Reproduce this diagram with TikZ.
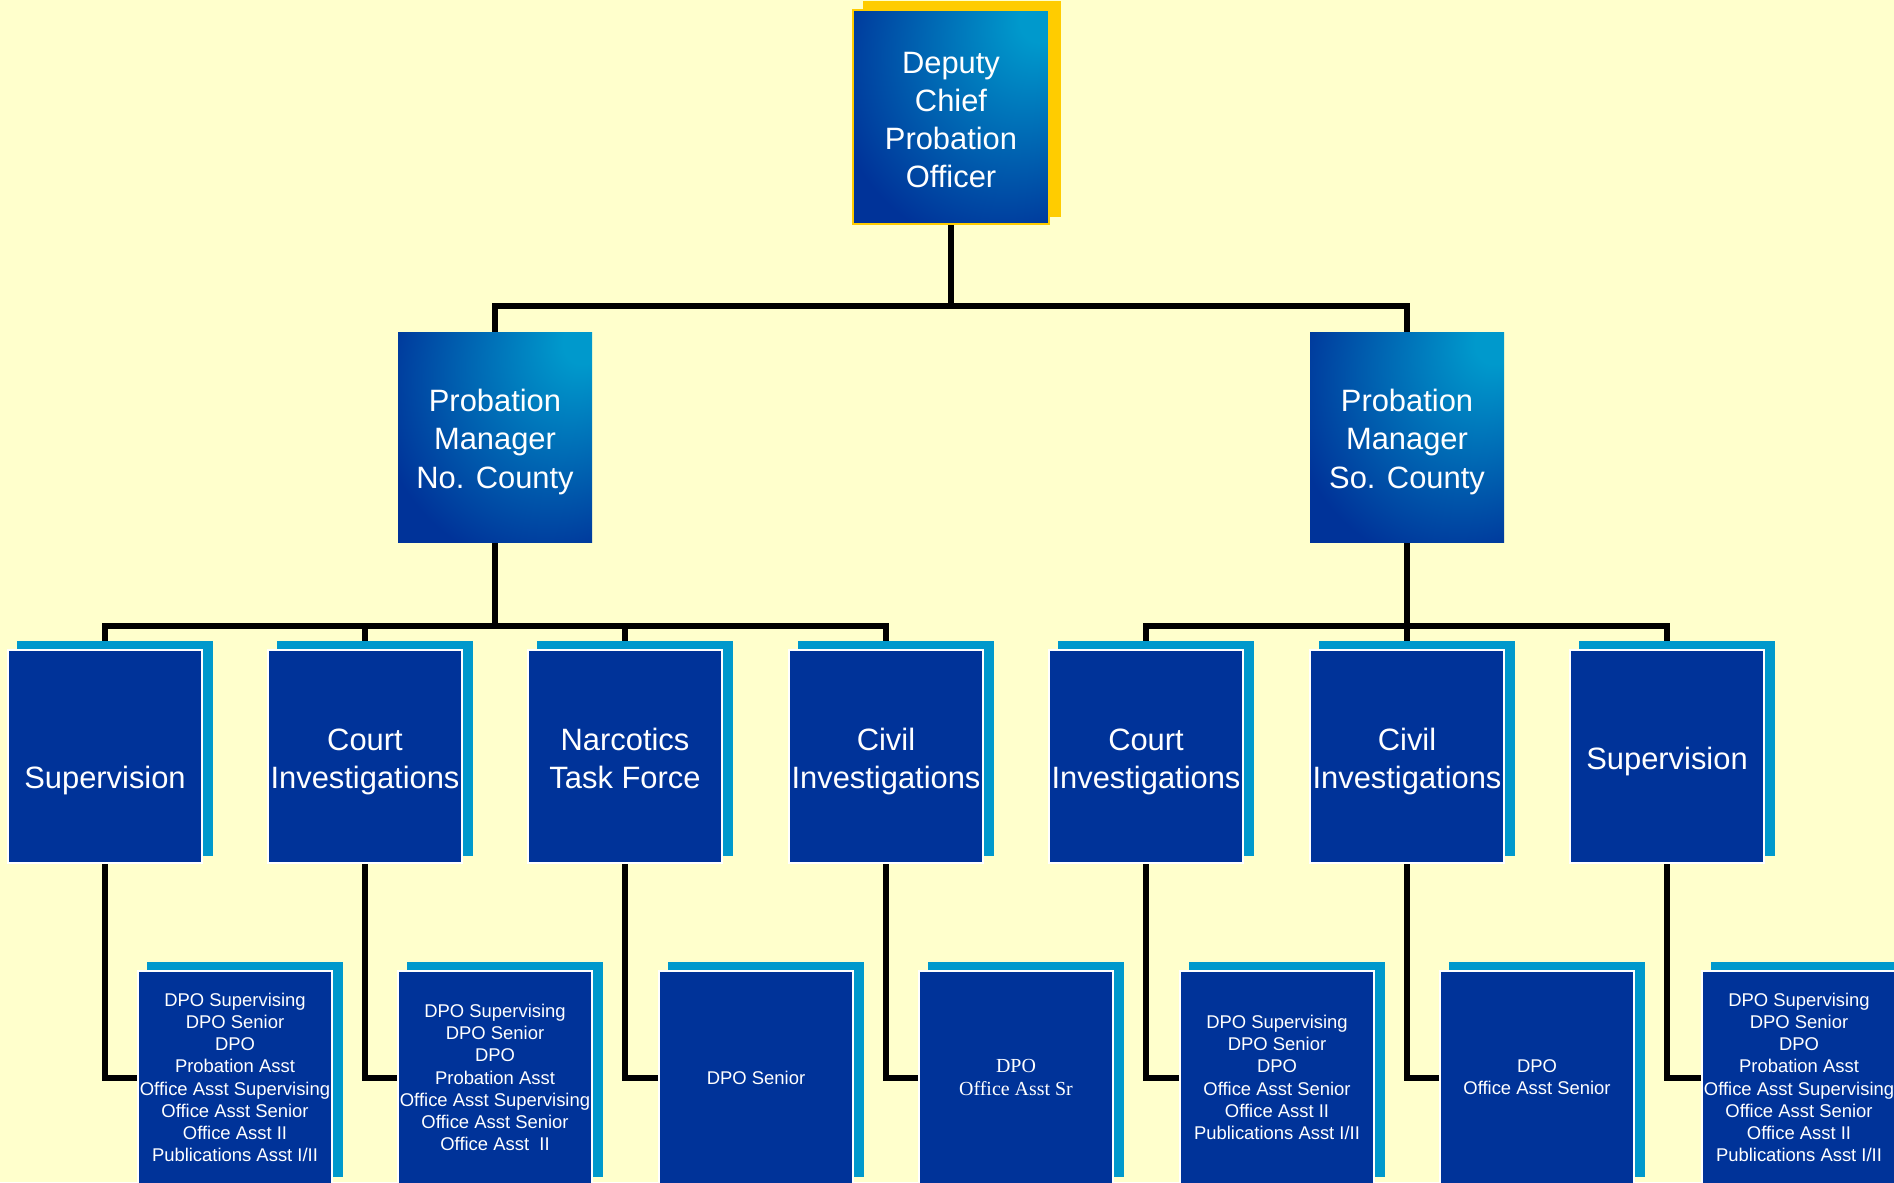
\documentclass[tikz,border=0pt]{standalone}
\usepackage{fontspec}
\setmainfont{Liberation Sans}
\newfontfamily\serifface{Liberation Serif}
\definecolor{bgyellow}{HTML}{FFFFCC}
\definecolor{boxblue}{HTML}{003399}
\definecolor{shadowblue}{HTML}{0099CC}
\definecolor{goldshadow}{HTML}{FFCC00}
\definecolor{brightcyan}{HTML}{0099CC}
\pgfdeclareradialshading{mgrshade}{\pgfpoint{24bp}{24bp}}{color(0bp)=(brightcyan); color(5bp)=(brightcyan); color(42bp)=(boxblue); color(80bp)=(boxblue)}
\pgfdeclarelayer{bglayer}
\pgfdeclarelayer{linelayer}
\pgfdeclarelayer{shadowlayer}
\pgfsetlayers{bglayer,linelayer,shadowlayer,main}
\newcommand{\lift}[1]{\rule{0pt}{#1}}
\tikzset{
  lv/.style={inner sep=0pt, align=center, text=white, minimum width=194bp, minimum height=213bp},
  topbox/.style={lv, minimum width=196bp, minimum height=214bp, shading=mgrshade, draw=goldshadow, line width=2bp, font=\fontsize{31}{38.3}\selectfont},
  mgrbox/.style={lv, minimum height=210bp, shading=mgrshade, font=\fontsize{31}{38.5}\selectfont},
  unitbox/.style={lv, fill=boxblue, draw=white, line width=1.4bp, font=\fontsize{31}{38}\selectfont},
  staffbox/.style={lv, fill=boxblue, draw=white, line width=1.2bp, font=\fontsize{18.5}{22.3}\selectfont},
  link/.style={line width=6bp, draw=black},
}
\begin{document}
\begin{tikzpicture}[x=1bp,y=-1bp]
\begin{pgfonlayer}{bglayer}
\fill[bgyellow] (0,0) rectangle (1894,1182);
\end{pgfonlayer}
\useasboundingbox (0,0) rectangle (1894,1182);

% top and managers
\node[topbox] (dcpo) at (951,117) {\lift{27bp}Deputy\\Chief\\Probation\\Officer};
\node[mgrbox] (nc) at (495,437.5) {\lift{31bp}Probation\\Manager\\No. County};
\node[mgrbox] (sc) at (1407,437.5) {\lift{31bp}Probation\\Manager\\So. County};

% units
\node[unitbox] (nsup) at (105,756.5) {\lift{33bp}\\Supervision};
\node[unitbox] (ncourt) at (365,756.5) {\lift{33bp}Court\\Investigations};
\node[unitbox] (nnarc) at (625,756.5) {\lift{27bp}Narcotics\\Task Force};
\node[unitbox] (ncivil) at (886,756.5) {\lift{33bp}Civil\\Investigations};
\node[unitbox] (scourt) at (1146,756.5) {\lift{33bp}Court\\Investigations};
\node[unitbox] (scivil) at (1407,756.5) {\lift{33bp}Civil\\Investigations};
\node[unitbox] (ssup) at (1667,756.5) {\lift{33bp}Supervision};

% staff
\node[staffbox] (nsupS) at (235,1077.5) {DPO Supervising\\DPO Senior\\DPO\\Probation Asst\\Office Asst Supervising\\Office Asst Senior\\Office Asst II\\Publications Asst I/II};
\node[staffbox] (ncourtS) at (495,1077.5) {DPO Supervising\\DPO Senior\\DPO\\Probation Asst\\Office Asst Supervising\\Office Asst Senior\\Office Asst~ II};
\node[staffbox] (nnarcS) at (756,1077.5) {DPO Senior};
\node[staffbox, font=\serifface\fontsize{20}{23.3}\selectfont] (ncivilS) at (1016,1077.5) {DPO\\Office Asst Sr};
\node[staffbox] (scourtS) at (1277,1077.5) {DPO Supervising\\DPO Senior\\DPO\\Office Asst Senior\\Office Asst II\\Publications Asst I/II};
\node[staffbox] (scivilS) at (1537,1077.5) {DPO\\Office Asst Senior};
\node[staffbox] (ssupS) at (1799,1077.5) {DPO Supervising\\DPO Senior\\DPO\\Probation Asst\\Office Asst Supervising\\Office Asst Senior\\Office Asst II\\Publications Asst I/II};

% shadows
\begin{pgfonlayer}{shadowlayer}
\fill[goldshadow] ([shift={(11,-8)}]dcpo.south west) rectangle ([shift={(11,-8)}]dcpo.north east);
\foreach \n in {nsup,ncourt,nnarc,ncivil,scourt,scivil,ssup,nsupS,ncourtS,nnarcS,ncivilS,scourtS,scivilS,ssupS}
  \fill[shadowblue] ([shift={(10,-8)}]\n.south west) rectangle ([shift={(10,-8)}]\n.north east);
\end{pgfonlayer}

% connectors
\begin{pgfonlayer}{linelayer}
\coordinate (topbus) at (0,306);
\coordinate (lowbus) at (0,626);
\draw[link] (dcpo.south) -- (dcpo.south |- topbus) -| (nc.north);
\draw[link] (dcpo.south |- topbus) -| (sc.north);
\foreach \c in {nsup,ncourt,nnarc,ncivil}
  \draw[link] (nc.south) -- (nc.south |- lowbus) -| (\c.north);
\foreach \c in {scourt,scivil,ssup}
  \draw[link] (sc.south) -- (sc.south |- lowbus) -| (\c.north);
\foreach \u/\s in {nsup/nsupS,ncourt/ncourtS,nnarc/nnarcS,ncivil/ncivilS,scourt/scourtS,scivil/scivilS,ssup/ssupS}
  \draw[link] (\u.south) |- (\s.west);
\end{pgfonlayer}
\end{tikzpicture}
\end{document}
